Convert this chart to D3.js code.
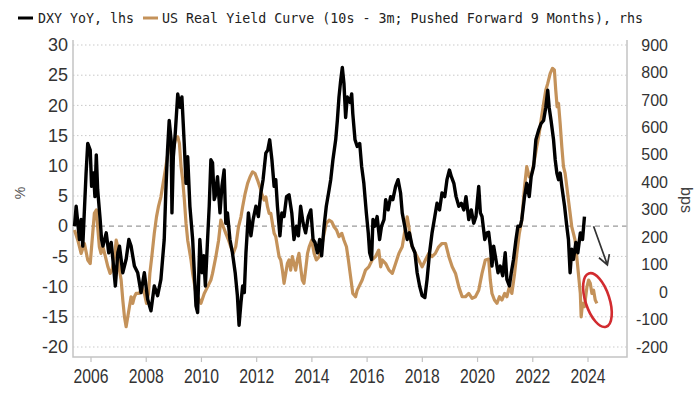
<!DOCTYPE html>
<html>
<head>
<meta charset="utf-8">
<script src="https://cdn.jsdelivr.net/npm/d3@7"></script>
<style>
    html, body { margin: 0; padding: 0; background: #fff; }
    #chart-container { width: 700px; height: 394px; }
</style>
</head>
<body>
<div id="chart-container"></div>
<script>
// DXY YoY (%), left axis - dates as decimal years
const dxyDates = [
    2005.42, 2005.48, 2005.60, 2005.66, 2005.72, 2005.84, 2005.90, 2005.99, 2006.04, 2006.11,
    2006.16, 2006.21, 2006.26, 2006.35, 2006.40, 2006.45, 2006.57, 2006.66, 2006.75, 2006.81,
    2006.90, 2006.99, 2007.05, 2007.17, 2007.29, 2007.39, 2007.47, 2007.59, 2007.71, 2007.83,
    2007.95, 2008.07, 2008.19, 2008.31, 2008.43, 2008.55, 2008.67, 2008.73, 2008.79, 2008.85,
    2008.92, 2008.95, 2009.00, 2009.07, 2009.16, 2009.24, 2009.31, 2009.40, 2009.46, 2009.52,
    2009.60, 2009.70, 2009.76, 2009.82, 2009.88, 2009.96, 2010.04, 2010.10, 2010.16, 2010.24,
    2010.30, 2010.36, 2010.42, 2010.48, 2010.52, 2010.60, 2010.69, 2010.76, 2010.84, 2010.90,
    2010.96, 2011.05, 2011.14, 2011.24, 2011.32, 2011.38, 2011.45, 2011.51, 2011.57, 2011.63,
    2011.69, 2011.72, 2011.81, 2011.89, 2011.99, 2012.08, 2012.17, 2012.25, 2012.35, 2012.42,
    2012.49, 2012.57, 2012.65, 2012.71, 2012.77, 2012.86, 2012.93, 2013.01, 2013.10, 2013.19,
    2013.29, 2013.37, 2013.46, 2013.53, 2013.61, 2013.70, 2013.79, 2013.89, 2013.98, 2014.06,
    2014.13, 2014.22, 2014.30, 2014.37, 2014.46, 2014.54, 2014.64, 2014.70, 2014.78, 2014.88,
    2014.94, 2015.00, 2015.06, 2015.12, 2015.18, 2015.24, 2015.30, 2015.40, 2015.46, 2015.50,
    2015.58, 2015.66, 2015.75, 2015.82, 2015.90, 2015.99, 2016.06, 2016.11, 2016.18, 2016.23,
    2016.30, 2016.38, 2016.47, 2016.54, 2016.63, 2016.69, 2016.78, 2016.87, 2016.95, 2017.05,
    2017.14, 2017.23, 2017.29, 2017.38, 2017.47, 2017.55, 2017.65, 2017.75, 2017.83, 2017.92,
    2018.01, 2018.11, 2018.19, 2018.28, 2018.37, 2018.47, 2018.55, 2018.64, 2018.73, 2018.83,
    2018.91, 2019.00, 2019.07, 2019.16, 2019.24, 2019.34, 2019.43, 2019.52, 2019.60, 2019.70,
    2019.79, 2019.88, 2019.96, 2020.06, 2020.12, 2020.18, 2020.28, 2020.36, 2020.42, 2020.48,
    2020.54, 2020.60, 2020.66, 2020.76, 2020.84, 2020.93, 2021.02, 2021.08, 2021.17, 2021.24,
    2021.32, 2021.41, 2021.48, 2021.57, 2021.62, 2021.72, 2021.80, 2021.89, 2021.96, 2022.05,
    2022.13, 2022.23, 2022.32, 2022.41, 2022.49, 2022.56, 2022.61, 2022.68, 2022.77, 2022.83,
    2022.89, 2022.95, 2023.01, 2023.07, 2023.17, 2023.25, 2023.31, 2023.37, 2023.43, 2023.49,
    2023.58, 2023.65, 2023.74, 2023.82, 2023.89
];
const dxyValues = [
    0, 3.3, -2.2, 1.1, -3.3, 8.8, 13.7, 12.6, 6.6, 8.8,
    4.9, 11.8, 6.0, 1.1, -2.2, -3.3, -1.1, -4.4, -2.7, -5.5,
    -9.9, -4.4, -3.3, -7.7, -5.5, -2.2, -3.3, -6.6, -7.7, -11.0,
    -7.7, -12.1, -14.0, -9.9, -11.5, -8.8, -2.2, 6.0, 12.6, 17.5,
    14.3, 2.2, 11.5, 15.4, 21.9, 19.7, 21.4, 13.2, 7.1, 11.5,
    3.3, -2.2, -7.7, -13.2, -14.3, -2.2, -7.7, -4.9, -9.9, -2.2,
    3.3, 11.0, 10.5, 4.4, 5.0, 8.2, 2.2, 6.6, 9.3, 0.5,
    2.2, -2.2, -4.4, -7.7, -11.5, -16.4, -12.6, -9.9, -11.0, -4.4,
    0, 2.2, -1.6, 1.1, 3.3, 1.6, 5.5, 7.7, 12.1, 12.6,
    14.3, 11.0, 6.6, 7.7, 3.3, -1.6, 2.2, 1.6, 4.9, 5.2,
    2.2, -2.2, 0, -1.6, 3.3, 0.5, -1.1, 1.6, 2.7, -2.2,
    -2.7, -4.4, -2.2, -4.9, 0, 3.3, 6.0, 7.7, 11.0, 14.3,
    17.5, 21.4, 24.1, 26.3, 23.6, 18.0, 21.4, 20.5, 21.9, 18.6,
    14.3, 13.2, 13.7, 9.9, 7.1, 2.2, -1.1, -4.4, -5.5, 1.1,
    0, 1.6, -2.2, 0, 1.1, 4.4, 2.7, 4.9, 4.4, 6.6,
    7.7, 5.5, 2.2, 0, -2.2, -1.1, -3.3, -4.4, -7.7, -9.9,
    -11.5, -11.8, -8.8, -4.4, -1.1, 1.6, 3.8, 2.7, 5.5, 4.9,
    7.7, 9.3, 8.2, 7.1, 4.9, 3.3, 3.8, 2.7, 4.9, 1.1,
    2.7, 0.5, 1.6, 6.6, 2.2, 1.6, -2.2, -1.1, -1.0, -3.3,
    -6.6, -3.3, -4.9, -7.7, -6.6, -8.2, -4.4, -8.8, -9.9, -7.7,
    -5.5, -2.2, 0, 0, 1.1, 4.9, 7.1, 4.9, 8.2, 9.9,
    14.3, 15.9, 17.0, 17.5, 19.7, 22.5, 19.7, 17.5, 14.3, 11.0,
    8.8, 7.7, 8.8, 6.6, 3.3, 0, -2.2, -7.7, -3.8, -5.5,
    -2.7, -4.4, -1.1, -2.2, 1.6
];

// US real yield curve 10s - 3m pushed forward 9 months (bps), right axis
const curveDates = [
    2005.42, 2005.54, 2005.66, 2005.78, 2005.90, 2005.99, 2006.06, 2006.14, 2006.21, 2006.26,
    2006.32, 2006.38, 2006.45, 2006.54, 2006.63, 2006.71, 2006.78, 2006.87, 2006.93, 2006.99,
    2007.05, 2007.11, 2007.17, 2007.23, 2007.29, 2007.35, 2007.41, 2007.47, 2007.53, 2007.59,
    2007.65, 2007.77, 2007.86, 2007.95, 2008.03, 2008.10, 2008.15, 2008.22, 2008.31, 2008.39,
    2008.46, 2008.55, 2008.63, 2008.73, 2008.82, 2008.92, 2009.00, 2009.07, 2009.16, 2009.22,
    2009.28, 2009.34, 2009.40, 2009.46, 2009.52, 2009.58, 2009.64, 2009.70, 2009.76, 2009.82,
    2009.88, 2010.00, 2010.12, 2010.24, 2010.36, 2010.42, 2010.54, 2010.64, 2010.72, 2010.81,
    2010.90, 2011.00, 2011.08, 2011.17, 2011.26, 2011.36, 2011.45, 2011.51, 2011.60, 2011.69,
    2011.78, 2011.87, 2011.96, 2012.05, 2012.13, 2012.20, 2012.29, 2012.35, 2012.41, 2012.47,
    2012.53, 2012.59, 2012.65, 2012.71, 2012.77, 2012.83, 2012.89, 2012.95, 2013.01, 2013.07,
    2013.13, 2013.19, 2013.25, 2013.31, 2013.37, 2013.43, 2013.49, 2013.55, 2013.61, 2013.67,
    2013.73, 2013.79, 2013.86, 2013.92, 2014.01, 2014.10, 2014.18, 2014.28, 2014.37, 2014.46,
    2014.54, 2014.64, 2014.74, 2014.82, 2014.91, 2015.00, 2015.10, 2015.18, 2015.27, 2015.34,
    2015.42, 2015.50, 2015.60, 2015.66, 2015.72, 2015.84, 2015.96, 2016.08, 2016.20, 2016.32,
    2016.44, 2016.51, 2016.57, 2016.69, 2016.81, 2016.93, 2017.05, 2017.17, 2017.29, 2017.41,
    2017.47, 2017.53, 2017.59, 2017.65, 2017.77, 2017.89, 2018.01, 2018.13, 2018.25, 2018.37,
    2018.49, 2018.61, 2018.73, 2018.86, 2018.98, 2019.10, 2019.22, 2019.34, 2019.46, 2019.58,
    2019.70, 2019.82, 2019.94, 2020.06, 2020.18, 2020.30, 2020.42, 2020.48, 2020.54, 2020.63,
    2020.72, 2020.81, 2020.90, 2021.00, 2021.08, 2021.17, 2021.26, 2021.36, 2021.44, 2021.53,
    2021.62, 2021.72, 2021.80, 2021.89, 2021.98, 2022.08, 2022.16, 2022.25, 2022.32, 2022.41,
    2022.49, 2022.56, 2022.65, 2022.73, 2022.80, 2022.85, 2022.90, 2022.95, 2023.01, 2023.07,
    2023.13, 2023.19, 2023.25, 2023.31, 2023.37, 2023.43, 2023.49, 2023.55, 2023.61, 2023.67,
    2023.74, 2023.77, 2023.82, 2023.89, 2023.98, 2024.04, 2024.10, 2024.16, 2024.22, 2024.28,
    2024.34
];
const curveValues = [
    226, 189, 141, 177, 117, 104, 189, 287, 299, 238,
    165, 141, 165, 129, 92, 68, 80, 129, 189, 165,
    80, 44, -29, -90, -126, -90, -53, -17, -41, -17,
    -5, -5, 19, -5, -41, -5, 68, 129, 214, 274,
    311, 347, 396, 457, 517, 542, 517, 554, 566, 542,
    457, 408, 335, 250, 189, 153, 117, 68, 32, -5,
    -17, -41, -5, 19, 44, 68, 129, 189, 262, 238,
    214, 189, 165, 141, 165, 238, 274, 311, 359, 396,
    420, 438, 432, 408, 384, 359, 335, 347, 311, 287,
    287, 250, 214, 202, 165, 129, 117, 80, 32, 68,
    104, 117, 80, 129, 104, 80, 117, 141, 92, 44,
    32, 80, 141, 165, 189, 141, 117, 129, 165, 214,
    250, 262, 256, 238, 226, 202, 214, 189, 165, 117,
    56, -5, -17, 7, 19, 44, 80, 92, 117, 129,
    153, 92, 117, 104, 80, 68, 104, 141, 165, 238,
    274, 238, 189, 165, 141, 117, 92, 117, 141, 129,
    141, 165, 177, 177, 129, 92, 68, 19, -17, -17,
    -5, -23, -17, 7, 68, 117, 120, 44, -5, -29,
    -41, -17, -29, -5, -17, 19, -5, 68, 141, 214,
    262, 384, 457, 420, 432, 481, 529, 578, 627, 687,
    736, 760, 797, 815, 809, 736, 675, 687, 614, 529,
    457, 432, 384, 335, 287, 238, 214, 189, 129, 68,
    -5, -90, -41, -53, 19, 44, 32, -5, 7, -29,
    -41
];

// axis ticks
const yearTicks = [2006, 2008, 2010, 2012, 2014, 2016, 2018, 2020, 2022, 2024];
const leftTicks = [30, 25, 20, 15, 10, 5, 0, -5, -10, -15, -20];
const rightTicks = [900, 800, 700, 600, 500, 400, 300, 200, 100, 0, -100, -200];

// legend entries
const legendLabels = ['DXY YoY, lhs', 'US Real Yield Curve (10s - 3m; Pushed Forward 9 Months), rhs'];

const GOLD = '#c4925a';
const GRID = '#c9c9c9';
const FRAME = '#c3c3c3';

document.addEventListener('DOMContentLoaded', () => {
    const width = 700, height = 394;
    const plot = { left: 73, right: 627, top: 40, bottom: 357 };

    const svg = d3.select('#chart-container').append('svg')
        .attr('width', width)
        .attr('height', height)
        .attr('viewBox', `0 0 ${width} ${height}`);

    // scales - labels 30 / 900 sit at y=45, -20 / -200 at y=347
    const x = d3.scaleLinear().domain([2006, 2024]).range([90.5, 587.5]);
    const yLeft = d3.scaleLinear().domain([-20, 30]).range([347, 45]);
    const yRight = d3.scaleLinear().domain([-200, 900]).range([347, 45]);

    // horizontal grid
    svg.append('g').selectAll('line')
        .data(leftTicks)
        .join('line')
        .attr('x1', plot.left)
        .attr('x2', plot.right)
        .attr('y1', d => yLeft(d))
        .attr('y2', d => yLeft(d))
        .attr('stroke', d => d === 0 ? '#9a9a9a' : GRID)
        .attr('stroke-width', d => d === 0 ? 1.2 : 1)
        .attr('stroke-dasharray', d => d === 0 ? '5,4' : '1.5,2.5');

    // frame: left, bottom, right
    svg.append('path')
        .attr('d', `M${plot.left},${plot.top}V${plot.bottom}H${plot.right}V${plot.top}`)
        .attr('fill', 'none')
        .attr('stroke', FRAME)
        .attr('stroke-width', 1.5);

    // left axis
    const leftAxis = svg.append('g')
        .attr('transform', `translate(${plot.left},0)`)
        .call(d3.axisLeft(yLeft).tickValues(leftTicks).tickSize(0).tickPadding(5).tickFormat(d => String(d)));
    leftAxis.select('.domain').remove();
    leftAxis.selectAll('text')
        .attr('font-family', 'Liberation Sans, Arial, sans-serif')
        .attr('font-size', 18)
        .attr('fill', '#333');

    // right axis, labels right aligned
    const rightAxis = svg.append('g')
        .attr('transform', `translate(${plot.right},0)`)
        .call(d3.axisRight(yRight).tickValues(rightTicks).tickSize(0).tickFormat(d => String(d)));
    rightAxis.select('.domain').remove();
    rightAxis.selectAll('text')
        .attr('x', 41)
        .attr('text-anchor', 'end')
        .attr('font-family', 'Liberation Sans, Arial, sans-serif')
        .attr('font-size', 16)
        .attr('fill', '#333');

    // bottom axis
    const bottomAxis = svg.append('g')
        .attr('transform', `translate(0,${plot.bottom})`)
        .call(d3.axisBottom(x).tickValues(yearTicks).tickSize(5).tickFormat(d3.format('d')));
    bottomAxis.select('.domain').remove();
    bottomAxis.selectAll('line').attr('stroke', FRAME).attr('stroke-width', 1.2);
    bottomAxis.selectAll('text')
        .attr('y', 26)
        .attr('dy', 0)
        .attr('font-family', 'Liberation Sans, Arial, sans-serif')
        .attr('font-size', 20)
        .attr('textLength', 35)
        .attr('lengthAdjust', 'spacingAndGlyphs')
        .attr('fill', '#333');

    // axis titles
    svg.append('text')
        .attr('transform', 'translate(25,193) rotate(-90)')
        .attr('text-anchor', 'middle')
        .attr('font-family', 'Liberation Sans, Arial, sans-serif')
        .attr('font-size', 14)
        .attr('fill', '#555')
        .text('%');

    svg.append('text')
        .attr('transform', 'translate(681,200) rotate(90)')
        .attr('text-anchor', 'middle')
        .attr('font-family', 'Liberation Sans, Arial, sans-serif')
        .attr('font-size', 16)
        .attr('fill', '#444')
        .text('bps');

    // series
    const curveLine = d3.line()
        .x((d, i) => x(curveDates[i]))
        .y(d => yRight(d));
    const dxyLine = d3.line()
        .x((d, i) => x(dxyDates[i]))
        .y(d => yLeft(d));

    svg.append('path')
        .datum(curveValues)
        .attr('d', curveLine)
        .attr('fill', 'none')
        .attr('stroke', GOLD)
        .attr('stroke-width', 3.2)
        .attr('stroke-linejoin', 'round');

    svg.append('path')
        .datum(dxyValues)
        .attr('d', dxyLine)
        .attr('fill', 'none')
        .attr('stroke', '#000')
        .attr('stroke-width', 3.4)
        .attr('stroke-linejoin', 'round');

    // annotation arrow
    const ax1 = x(2024.22), ay1 = yLeft(0);
    const ax2 = x(2024.72), ay2 = yLeft(-6.4);
    const ang = Math.atan2(ay2 - ay1, ax2 - ax1);
    const headLen = 11;
    const h1 = [ax2 - headLen * Math.cos(ang - Math.PI / 6), ay2 - headLen * Math.sin(ang - Math.PI / 6)];
    const h2 = [ax2 - headLen * Math.cos(ang + Math.PI / 6), ay2 - headLen * Math.sin(ang + Math.PI / 6)];
    svg.append('path')
        .attr('d', `M${ax1},${ay1}L${ax2},${ay2}M${h1[0]},${h1[1]}L${ax2},${ay2}L${h2[0]},${h2[1]}`)
        .attr('fill', 'none')
        .attr('stroke', '#333')
        .attr('stroke-width', 1.7);

    // red ellipse round the latest curve values
    const ex = x(2024.36), ey = yRight(-29);
    svg.append('ellipse')
        .attr('cx', 0)
        .attr('cy', 0)
        .attr('rx', 12)
        .attr('ry', 28)
        .attr('transform', `translate(${ex},${ey}) rotate(-18)`)
        .attr('fill', 'none')
        .attr('stroke', '#d22b2f')
        .attr('stroke-width', 2.6);

    // legend
    const legend = svg.append('g').attr('font-family', 'DejaVu Sans Mono, Liberation Mono, monospace');
    legend.append('line')
        .attr('x1', 18).attr('x2', 33).attr('y1', 18).attr('y2', 18)
        .attr('stroke', '#000').attr('stroke-width', 3);
    legend.append('text')
        .attr('x', 38).attr('y', 23)
        .attr('font-size', 14.5)
        .attr('textLength', 96)
        .attr('lengthAdjust', 'spacingAndGlyphs')
        .attr('fill', '#222')
        .text(legendLabels[0]);
    legend.append('line')
        .attr('x1', 143).attr('x2', 158).attr('y1', 18).attr('y2', 18)
        .attr('stroke', GOLD).attr('stroke-width', 3);
    legend.append('text')
        .attr('x', 162).attr('y', 23)
        .attr('font-size', 14.5)
        .attr('textLength', 481)
        .attr('lengthAdjust', 'spacingAndGlyphs')
        .attr('fill', '#222')
        .text(legendLabels[1]);
});
</script>
</body>
</html>
